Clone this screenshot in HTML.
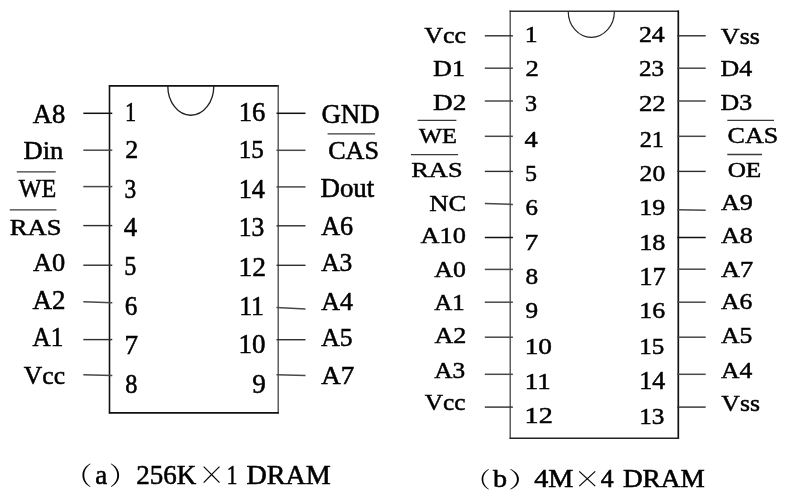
<!DOCTYPE html>
<html lang="zh"><head><meta charset="utf-8"><title>DRAM pinout</title>
<style>html,body{margin:0;padding:0;background:#fff}svg{display:block;will-change:transform}text{font-family:"Liberation Serif","Noto Serif CJK SC",serif;fill:#000;stroke:#000;stroke-width:0.55}.cj{font-family:"Noto Serif CJK SC","Liberation Serif",serif;stroke:none}.nt{fill:none;stroke:#222}.pn{stroke:#484848;stroke-width:1.5}.pd{stroke:#111;stroke-width:1.5}.pm{stroke:#2e2e2e;stroke-width:1.4}.ov{stroke:#3a3a3a;stroke-width:1.3}</style></head><body>
<svg width="791" height="500" viewBox="0 0 791 500">
<rect width="791" height="500" fill="#fff"/>
<line x1="109.5" y1="85.3" x2="109.5" y2="413.4" stroke="#111" stroke-width="1.6"/>
<line x1="108.9" y1="85.9" x2="278.8" y2="85.9" stroke="#111" stroke-width="1.6"/>
<line x1="278.2" y1="85.3" x2="278.2" y2="413.4" stroke="#444" stroke-width="1.3"/>
<line x1="108.9" y1="412.8" x2="278.8" y2="412.8" stroke="#111" stroke-width="1.7"/>
<path class="nt" stroke-width="1.35" d="M167.8 85.9A23 29.3 0 0 0 213.8 85.9"/>
<line class="pd" x1="83.3" y1="113.3" x2="112.3" y2="113.3"/>
<line class="pn" x1="83.3" y1="150.2" x2="112.3" y2="150.2"/>
<line class="pn" x1="83.3" y1="186.6" x2="112.3" y2="186.6"/>
<line class="pm" x1="83.3" y1="225.6" x2="112.3" y2="225.6"/>
<line class="pm" x1="83.3" y1="265.2" x2="112.3" y2="265.2"/>
<line class="pn" x1="83.3" y1="301.7" x2="112.3" y2="302.7"/>
<line class="pm" x1="83.3" y1="339.6" x2="112.3" y2="339.6"/>
<line class="pn" x1="83.3" y1="374.8" x2="112.3" y2="375.4"/>
<line class="pd" x1="276.5" y1="113.3" x2="305.5" y2="113.3"/>
<line class="pn" x1="276.5" y1="150.3" x2="305.5" y2="150.3"/>
<line class="pn" x1="276.5" y1="186.9" x2="305.5" y2="186.9"/>
<line class="pm" x1="276.5" y1="225.8" x2="305.5" y2="225.8"/>
<line class="pm" x1="276.5" y1="265.3" x2="305.5" y2="265.3"/>
<line class="pn" x1="276.5" y1="307.6" x2="305.5" y2="309"/>
<line class="pm" x1="276.5" y1="339.7" x2="305.5" y2="339.7"/>
<line class="pn" x1="276.5" y1="374.8" x2="305.5" y2="375.4"/>
<line class="ov" x1="16.8" y1="171.9" x2="55.7" y2="171.9"/>
<line class="ov" x1="9.8" y1="209.9" x2="56.5" y2="209.9"/>
<line class="ov" x1="327.6" y1="133.9" x2="375" y2="133.9"/>
<line x1="510.2" y1="10.6" x2="510.2" y2="438.9" stroke="#444" stroke-width="1.3"/>
<line x1="509.6" y1="11.2" x2="678.9" y2="11.2" stroke="#333" stroke-width="1.4"/>
<line x1="678.3" y1="10.6" x2="678.3" y2="438.9" stroke="#111" stroke-width="1.7"/>
<line x1="509.6" y1="438.3" x2="678.9" y2="438.3" stroke="#222" stroke-width="1.4"/>
<path class="nt" stroke-width="1.15" d="M568.2 11.2A23.1 26.2 0 0 0 614.4 11.2"/>
<line class="pm" x1="484.8" y1="35.8" x2="512.9" y2="35.8"/>
<line class="pn" x1="484.8" y1="68.2" x2="512.9" y2="68.2"/>
<line class="pn" x1="484.8" y1="101" x2="512.9" y2="101"/>
<line class="pn" x1="484.8" y1="136.3" x2="512.9" y2="136.3"/>
<line class="pm" x1="484.8" y1="171.4" x2="512.9" y2="171.4"/>
<line class="pn" x1="484.8" y1="203.6" x2="512.9" y2="204.4"/>
<line class="pd" x1="484.8" y1="237.5" x2="512.9" y2="237.5"/>
<line class="pn" x1="484.8" y1="269.4" x2="512.9" y2="269.4"/>
<line class="pn" x1="484.8" y1="302.2" x2="512.9" y2="302.2"/>
<line class="pn" x1="484.8" y1="337.2" x2="512.9" y2="337.2"/>
<line class="pn" x1="484.8" y1="374.3" x2="512.9" y2="374.3"/>
<line class="pm" x1="484.8" y1="407.1" x2="512.9" y2="407.1"/>
<line class="pm" x1="677.3" y1="35.8" x2="705.7" y2="35.8"/>
<line class="pn" x1="677.3" y1="68.2" x2="705.7" y2="68.2"/>
<line class="pn" x1="677.3" y1="101" x2="705.7" y2="101"/>
<line class="pn" x1="677.3" y1="136.3" x2="705.7" y2="136.3"/>
<line class="pm" x1="677.3" y1="171.4" x2="705.7" y2="171.4"/>
<line class="pn" x1="677.3" y1="209.7" x2="705.7" y2="210.3"/>
<line class="pd" x1="677.3" y1="237.5" x2="705.7" y2="237.5"/>
<line class="pn" x1="677.3" y1="269.2" x2="705.7" y2="269.2"/>
<line class="pn" x1="677.3" y1="302.2" x2="705.7" y2="302.2"/>
<line class="pn" x1="677.3" y1="337.2" x2="705.7" y2="337.2"/>
<line class="pn" x1="677.3" y1="374.3" x2="705.7" y2="374.3"/>
<line class="pm" x1="677.3" y1="407.1" x2="705.7" y2="407.1"/>
<line class="ov" x1="417.6" y1="120.4" x2="456.4" y2="120.4"/>
<line class="ov" x1="411" y1="154.7" x2="458.1" y2="154.7"/>
<line class="ov" x1="727.3" y1="120.4" x2="774" y2="120.4"/>
<line class="ov" x1="727.3" y1="154.5" x2="762" y2="154.5"/>
<text transform="translate(32.82 122.58) scale(0.9877 1.0121)" font-size="27">A8</text>
<text transform="translate(23.61 158.58) scale(0.9821 0.9515)" font-size="27">Din</text>
<text transform="translate(18.82 197.08) scale(0.8940 0.9177)" font-size="27">WE</text>
<text transform="translate(9.7 234.58) scale(0.9857 0.8798)" font-size="27">RAS</text>
<text transform="translate(33.02 270.98) scale(0.9784 0.9294)" font-size="27">A0</text>
<text transform="translate(32.62 309.48) scale(0.9977 0.9790)" font-size="27">A2</text>
<text transform="translate(32.62 346.18) scale(0.9315 0.9735)" font-size="27">A1</text>
<text transform="translate(23.82 383.58) scale(0.9484 0.9685)" font-size="27">Vcc</text>
<text transform="translate(124.88 121.18) scale(0.8257 1.0121)" font-size="27">1</text>
<text transform="translate(125.31 158.28) scale(0.9622 0.9459)" font-size="27">2</text>
<text transform="translate(124.42 198.06) scale(0.8656 0.9837)" font-size="27">3</text>
<text transform="translate(123.7 236.08) scale(0.9924 0.9900)" font-size="27">4</text>
<text transform="translate(124.29 275.26) scale(0.8920 1.0066)" font-size="27">5</text>
<text transform="translate(124.64 314.57) scale(0.9285 0.9783)" font-size="27">6</text>
<text transform="translate(124.42 353.78) scale(1.0061 0.9967)" font-size="27">7</text>
<text transform="translate(125.36 392.66) scale(0.9024 0.9999)" font-size="27">8</text>
<text transform="translate(238.65 120.76) scale(0.9833 0.9945)" font-size="27">16</text>
<text transform="translate(238.76 158.28) scale(0.9299 0.9460)" font-size="27">15</text>
<text transform="translate(238.66 198.48) scale(0.9751 0.9956)" font-size="27">14</text>
<text transform="translate(238.72 236.17) scale(0.9465 0.9783)" font-size="27">13</text>
<text transform="translate(238.57 276.08) scale(1.0184 1.0066)" font-size="27">12</text>
<text transform="translate(239.21 315.18) scale(0.9530 0.9900)" font-size="27">11</text>
<text transform="translate(238.61 353.36) scale(1.0005 0.9891)" font-size="27">10</text>
<text transform="translate(252.37 392.66) scale(1.0040 0.9999)" font-size="27">9</text>
<text transform="translate(321.38 122.58) scale(0.9955 1.0341)" font-size="27">GND</text>
<text transform="translate(328.2 158.58) scale(0.9680 0.9625)" font-size="27">CAS</text>
<text transform="translate(320.5 197.08) scale(0.9961 1.0023)" font-size="27">Dout</text>
<text transform="translate(321.22 234.78) scale(0.9688 0.9735)" font-size="27">A6</text>
<text transform="translate(321.22 271.48) scale(0.9442 0.9459)" font-size="27">A3</text>
<text transform="translate(321.22 309.78) scale(0.9596 0.9570)" font-size="27">A4</text>
<text transform="translate(321.22 346.08) scale(0.9473 0.9570)" font-size="27">A5</text>
<text transform="translate(321.22 383.98) scale(1.0026 0.9680)" font-size="27">A7</text>
<text transform="translate(424.22 43.38) scale(0.9624 0.8725)" font-size="27">Vcc</text>
<text transform="translate(433.11 76.38) scale(0.9664 0.8633)" font-size="27">D1</text>
<text transform="translate(433.09 110.48) scale(1.0080 0.8688)" font-size="27">D2</text>
<text transform="translate(419.12 143.08) scale(0.9014 0.7709)" font-size="27">WE</text>
<text transform="translate(411.31 176.58) scale(0.9758 0.7585)" font-size="27">RAS</text>
<text transform="translate(429.3 210.58) scale(0.9891 0.8743)" font-size="27">NC</text>
<text transform="translate(420.42 243.18) scale(0.9782 0.8743)" font-size="27">A10</text>
<text transform="translate(434.32 277.08) scale(0.9566 0.8743)" font-size="27">A0</text>
<text transform="translate(434.22 309.78) scale(0.9252 0.8633)" font-size="27">A1</text>
<text transform="translate(434.42 343.48) scale(0.9662 0.8522)" font-size="27">A2</text>
<text transform="translate(434.22 377.78) scale(0.9380 0.8633)" font-size="27">A3</text>
<text transform="translate(424.82 409.98) scale(0.9391 0.8612)" font-size="27">Vcc</text>
<text transform="translate(524.71 41.98) scale(0.9541 0.8633)" font-size="27">1</text>
<text transform="translate(525.39 76.38) scale(0.9885 0.8633)" font-size="27">2</text>
<text transform="translate(525.09 111.12) scale(0.8920 0.8598)" font-size="27">3</text>
<text transform="translate(524.41 146.78) scale(0.9766 0.8688)" font-size="27">4</text>
<text transform="translate(525.09 180.61) scale(0.8920 0.8688)" font-size="27">5</text>
<text transform="translate(525.44 215.21) scale(0.9204 0.8706)" font-size="27">6</text>
<text transform="translate(524.51 250.08) scale(1.0149 0.8838)" font-size="27">7</text>
<text transform="translate(525.43 284.22) scale(0.9363 0.8490)" font-size="27">8</text>
<text transform="translate(525.43 318.42) scale(0.9363 0.8598)" font-size="27">9</text>
<text transform="translate(524.68 354.12) scale(1.0130 0.8490)" font-size="27">10</text>
<text transform="translate(524.82 389.08) scale(0.9972 0.8743)" font-size="27">11</text>
<text transform="translate(524.62 423.38) scale(1.0438 0.8798)" font-size="27">12</text>
<text transform="translate(638.91 41.98) scale(0.9583 0.8633)" font-size="27">24</text>
<text transform="translate(638.93 76.42) scale(0.9308 0.8652)" font-size="27">23</text>
<text transform="translate(638.88 110.98) scale(0.9907 0.8743)" font-size="27">22</text>
<text transform="translate(639.66 146.78) scale(0.8983 0.8688)" font-size="27">21</text>
<text transform="translate(639.62 180.62) scale(0.9466 0.8490)" font-size="27">20</text>
<text transform="translate(639.19 215.41) scale(0.9631 0.8813)" font-size="27">19</text>
<text transform="translate(639.16 249.81) scale(0.9756 0.8706)" font-size="27">18</text>
<text transform="translate(639.15 285.18) scale(0.9833 0.9018)" font-size="27">17</text>
<text transform="translate(639.2 318.21) scale(0.9588 0.8706)" font-size="27">16</text>
<text transform="translate(639.26 354.11) scale(0.9299 0.8652)" font-size="27">15</text>
<text transform="translate(639.2 389.08) scale(0.9588 0.8963)" font-size="27">14</text>
<text transform="translate(639.15 423.51) scale(0.9340 0.8867)" font-size="27">13</text>
<text transform="translate(720.82 43.58) scale(0.9660 0.8838)" font-size="27">Vss</text>
<text transform="translate(720.41 76.38) scale(0.9628 0.8633)" font-size="27">D4</text>
<text transform="translate(720.42 110.48) scale(0.9599 0.8688)" font-size="27">D3</text>
<text transform="translate(727.61 143.08) scale(0.9640 0.8302)" font-size="27">CAS</text>
<text transform="translate(727.63 176.58) scale(0.9355 0.8136)" font-size="27">OE</text>
<text transform="translate(721.02 210.48) scale(0.9660 0.8688)" font-size="27">A9</text>
<text transform="translate(721.02 243.18) scale(0.9660 0.8577)" font-size="27">A8</text>
<text transform="translate(721.02 277.08) scale(0.9749 0.8522)" font-size="27">A7</text>
<text transform="translate(721.02 309.38) scale(0.9534 0.8412)" font-size="27">A6</text>
<text transform="translate(721.02 343.38) scale(0.9535 0.8467)" font-size="27">A5</text>
<text transform="translate(721.02 377.68) scale(0.9504 0.8577)" font-size="27">A4</text>
<text transform="translate(721.32 411.08) scale(0.9534 0.8782)" font-size="27">Vss</text>
<text class="cj" transform="translate(63.97 484.85) scale(0.2829 0.2508)" font-size="100">（</text>
<text transform="translate(95.18 484.4) scale(0.9882 1)" font-size="27.3">a</text>
<text class="cj" transform="translate(108.89 484.85) scale(0.2897 0.2508)" font-size="100">）</text>
<text transform="translate(136.17 484.4) scale(0.9906 1)" font-size="27.3">256K</text>
<text class="cj" transform="translate(198.1 484.89) scale(0.2720 0.2747)" font-size="100">×</text>
<text transform="translate(226.86 484.4) scale(0.7775 1)" font-size="27.3">1</text>
<text transform="translate(246.38 484.4) scale(1.0291 1)" font-size="27.3">DRAM</text>
<text class="cj" transform="translate(465 487.05) scale(0.2560 0.2182)" font-size="100">（</text>
<text transform="translate(493.02 487.2) scale(1.1601 1)" font-size="24.2">b</text>
<text class="cj" transform="translate(508.28 487.05) scale(0.3065 0.2182)" font-size="100">）</text>
<text transform="translate(534.28 487.2) scale(1.1630 1)" font-size="24.2">4M</text>
<text class="cj" transform="translate(573.44 487.79) scale(0.2752 0.2529)" font-size="100">×</text>
<text transform="translate(600.82 487.2) scale(1.0631 1)" font-size="24.2">4</text>
<text transform="translate(622.89 487.2) scale(1.1275 1)" font-size="24.2">DRAM</text>
</svg></body></html>
